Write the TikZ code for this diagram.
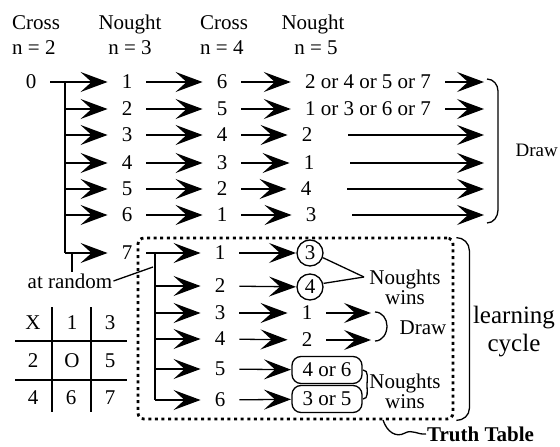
\documentclass[tikz,border=0pt]{standalone}
\usepackage{fontspec}
\setmainfont{Liberation Serif}
\usetikzlibrary{arrows.meta}
\begin{document}
\begin{tikzpicture}[x=1pt,y=-1pt,
  every node/.style={font=\fontsize{21}{25}\selectfont},
  hdr/.style={font=\fontsize{21}{25}\selectfont, inner sep=0pt},
  lbl/.style={inner ysep=1pt, inner xsep=14pt},
  txt/.style={inner sep=1pt},
  ln/.style={line width=1.3pt},
  arr/.style={line width=1.3pt, -{Stealth[length=27pt,width=20pt,inset=11pt]}},
  ring/.style={draw, line width=1.3pt, circle, minimum size=26pt, inner sep=0pt, outer sep=1pt},
  pill/.style={draw, line width=1.3pt, rounded corners=9pt, minimum width=70pt, minimum height=27pt, inner sep=1pt, outer sep=1pt},
  dotbox/.style={draw, line width=2.8pt, dash pattern=on 3pt off 3.6pt, rounded corners=6pt, inner sep=0pt},
  cell/.style={inner sep=1pt}
]
\useasboundingbox (0,0) rectangle (560,447);

% column headings
\node[hdr, anchor=north west, align=left] (hA) at (12,15) {Cross\\n = 2};
\node[hdr, anchor=north, align=center] (hB) at (130,15) {Nought\\n = 3};
\node[hdr, anchor=north west, align=left] (hC) at (200,15) {Cross\\n = 4};
\node[hdr, anchor=north, align=center] (hD) at (313,15) {Nought\\\hspace*{6pt}n = 5};

% first move and the random branch
\node[lbl] (n0) at (31,82) {0};
\coordinate (busT) at (65,82);
\coordinate (busB) at (65,253);

% nought replies (n = 3)
\node[lbl] (b1) at (127,82) {1};
\node[lbl] (b2) at (127,109) {2};
\node[lbl] (b3) at (127,135) {3};
\node[lbl] (b4) at (127,163) {4};
\node[lbl] (b5) at (127,189) {5};
\node[lbl] (b6) at (127,215) {6};
\node[lbl] (b7) at (127,253) {7};

% cross replies (n = 4)
\node[lbl] (c1) at (222,82) {6};
\node[lbl] (c2) at (222,109) {5};
\node[lbl] (c3) at (222,135) {4};
\node[lbl] (c4) at (222,163) {3};
\node[lbl] (c5) at (222,189) {2};
\node[lbl] (c6) at (222,215) {1};

% nought replies (n = 5)
\node[lbl] (d1) at (368,82) {2 or 4 or 5 or 7};
\node[lbl] (d2) at (368,109) {1 or 3 or 6 or 7};
\node[lbl] (d3) at (307,135) {2};
\node[lbl] (d4) at (309,163) {1};
\node[lbl] (d5) at (306,189) {4};
\node[lbl] (d6) at (311,215) {3};

\coordinate (e1) at (484,82);
\coordinate (e2) at (484,109);
\coordinate (e3) at (484,135);
\coordinate (e4) at (484,163);
\coordinate (e5) at (484,189);
\coordinate (e6) at (484,215);

\draw[arr] (n0) -- (b1);
\draw[ln] (busT) -- (busB);
\foreach \i in {2,...,7} { \draw[arr] (busT |- b\i) -- (b\i); }
\foreach \i in {1,...,6} { \draw[arr] (b\i) -- (c\i); \draw[arr] (c\i) -- (d\i); }
\draw[arr] (d1) -- (e1);
\draw[arr] (d2) -- (e2);
\foreach \i in {3,...,6} { \draw[arr, shorten <=22pt] (d\i) -- (e\i); }

% brace for the drawn games
\draw[ln] ([shift={(3,-3)}]e1) to[out=0,in=90] ([shift={(14,9)}]e1)
  -- ([shift={(14,-5)}]e6) to[out=-90,in=0] ([shift={(3,8)}]e6);
\node[txt, anchor=east, font=\fontsize{19}{23}\selectfont] (dr1) at (559,150) {Draw};

% "at random" note
\node[txt] (ar) at (70,281) {at random};
\coordinate (rt) at (72,253);
\draw[ln] (rt) -- (rt |- ar.north);
\coordinate (rp) at (153,267);
\draw[ln] (ar.east) -- (rp);

% truth table box
\node[dotbox, minimum width=315pt, minimum height=181pt] (tt) at (295.5,328.5) {};

% cross replies after 7
\node[lbl] (l1) at (220,253) {1};
\node[lbl] (l2) at (220,286) {2};
\node[lbl] (l3) at (220,313) {3};
\node[lbl] (l4) at (220,339) {4};
\node[lbl] (l5) at (220,369) {5};
\node[lbl] (l6) at (220,400) {6};
\coordinate (busL) at (155,253);
\coordinate (busLb) at (155,400);

\draw[arr] (b7) -- (l1);
\draw[ln] (busL) -- (busLb);
\foreach \i in {2,...,6} { \draw[arr] (busL |- l\i) -- (l\i); }

% outcomes
\node[ring] (k3) at (310,253) {3};
\node[ring] (k4) at (310,287) {4};
\node[lbl] (m3) at (307,313) {1};
\node[lbl] (m4) at (307,340) {2};
\node[pill] (p5) at (327,370) {4 or 6};
\node[pill] (p6) at (327,399) {3 or 5};
\coordinate (f3) at (371,313);
\coordinate (f4) at (371,340);

\draw[arr] (l1) -- (k3);
\draw[arr] (l2) -- (k4);
\draw[arr] (l3) -- (m3);
\draw[arr] (l4) -- (m4);
\draw[arr] (l5) -- (p5);
\draw[arr] (l6) -- (p6);
\draw[arr] (m3) -- (f3);
\draw[arr] (m4) -- (f4);

\coordinate (nw) at (364,277);
\draw[ln] (k3.-20) -- (nw);
\draw[ln] (k4.15) -- (nw);
\node[txt, align=center, font=\fontsize{21}{20}\selectfont] (w1) at (405,287) {Noughts\\wins};

\draw[ln] (375,312) to[out=0,in=90] (387,326) to[out=-90,in=0] (375,341);
\node[txt] (dr2) at (423,328) {Draw};

\coordinate (jn) at (367,385);
\draw[ln] (p5.east) to[out=0,in=90] (jn) to[out=-90,in=0] (p6.east);
\node[txt, align=center, font=\fontsize{21}{20}\selectfont] (w2) at (405,391) {Noughts\\wins};

% learning cycle brace
\draw[ln] ([shift={(2,1)}]tt.north east) to[out=0,in=90] ([shift={(15,14)}]tt.north east)
  -- ([shift={(15,-12)}]tt.south east) to[out=-90,in=0] ([shift={(2,0)}]tt.south east);
\node[txt, align=center, font=\fontsize{25}{28}\selectfont] (lc) at (514,332) {learning\\cycle};

% truth table label with its leader
\node[txt, anchor=west, font=\fontsize{21}{25}\selectfont\bfseries] (tl) at (426,434) {Truth Table};
\coordinate (ts) at (383,420);
\draw[ln] (ts) .. controls (387,432) and (396,438) .. (405,433) .. controls (412,429) and (418,435) .. (tl.west);

% board numbering
\draw[ln] (52,307) -- (52,412);
\draw[ln] (91,307) -- (91,412);
\draw[ln] (15,341) -- (127,341);
\draw[ln] (15,380) -- (127,380);
\node[cell] (g11) at (33,323) {X};
\node[cell] (g12) at (72,323) {1};
\node[cell] (g13) at (110,323) {3};
\node[cell] (g21) at (33,361) {2};
\node[cell] (g22) at (72,361) {O};
\node[cell] (g23) at (110,361) {5};
\node[cell] (g31) at (33,398) {4};
\node[cell] (g32) at (71,398) {6};
\node[cell] (g33) at (110,398) {7};
\end{tikzpicture}
\end{document}
